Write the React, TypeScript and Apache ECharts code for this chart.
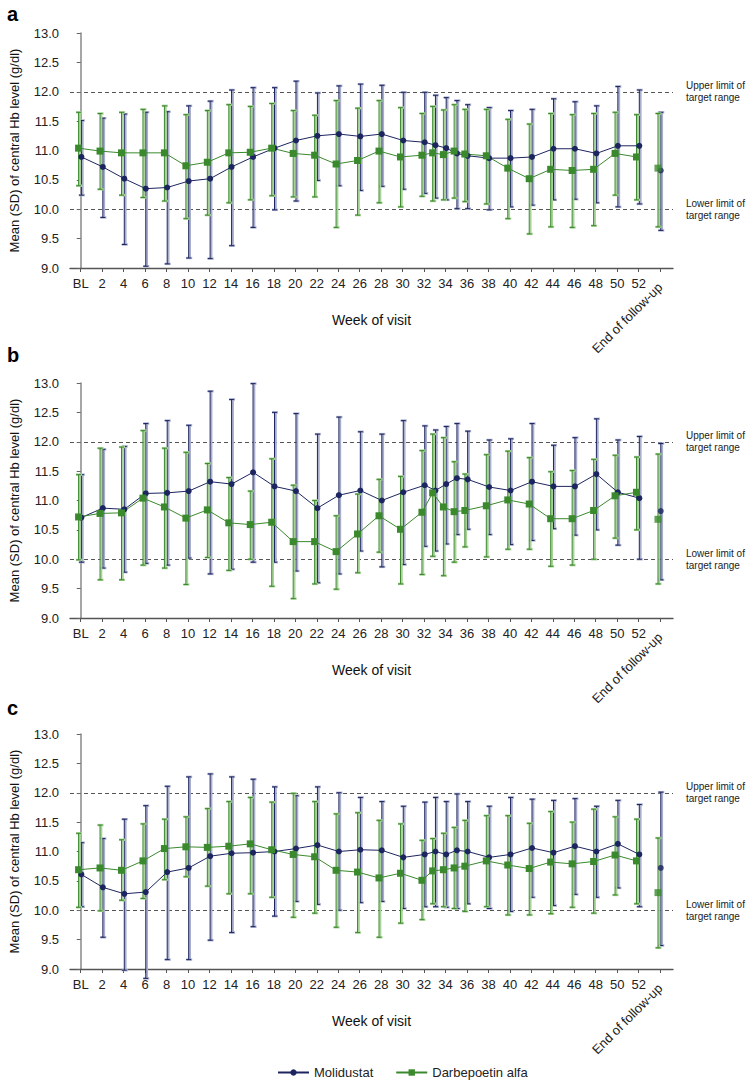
import React, { useEffect, useRef } from "react";
import * as echarts from "echarts";

// Visit weeks (BL = 0, End of follow-up plotted at 54)
const weeks = [0, 2, 4, 6, 8, 10, 12, 14, 16, 18, 20, 22, 24, 26, 28, 30, 32, 33, 34, 35, 36, 38, 40, 42, 44, 46, 48, 50, 52, 54];
const tickWeeks = [0, 2, 4, 6, 8, 10, 12, 14, 16, 18, 20, 22, 24, 26, 28, 30, 32, 34, 36, 38, 40, 42, 44, 46, 48, 50, 52, 54];
const END_WEEK = 54;
const END_LABEL = "End of follow-up";
const panelLabels = ["a", "b", "c"];
const seriesNames = ["Molidustat", "Darbepoetin alfa"];

// Panel a
const aMoliMean = [10.89, 10.72, 10.52, 10.35, 10.37, 10.48, 10.52, 10.72, 10.89, 11.04, 11.17, 11.25, 11.28, 11.24, 11.28, 11.17, 11.14, 11.09, 11.04, 10.95, 10.91, 10.87, 10.87, 10.89, 11.03, 11.03, 10.95, 11.08, 11.08, 10.66];
const aMoliHi = [11.51, 11.55, 11.62, 11.65, 11.66, 11.76, 11.84, 12.03, 12.07, 12.07, 12.18, 11.98, 12.10, 12.13, 12.11, 11.99, 11.99, 11.94, 11.90, 11.85, 11.78, 11.73, 11.68, 11.70, 11.88, 11.83, 11.76, 12.09, 12.03, 11.65];
const aMoliLo = [10.24, 9.86, 9.40, 9.03, 9.07, 9.17, 9.16, 9.38, 9.69, 9.99, 10.14, 10.49, 10.40, 10.32, 10.39, 10.34, 10.27, 10.19, 10.16, 10.01, 10.01, 9.99, 10.04, 10.07, 10.16, 10.17, 10.11, 10.04, 10.09, 9.64];
const aDarbMean = [11.04, 10.99, 10.96, 10.96, 10.96, 10.74, 10.80, 10.96, 10.97, 11.04, 10.95, 10.92, 10.77, 10.83, 10.99, 10.89, 10.92, 10.96, 10.93, 10.99, 10.94, 10.91, 10.70, 10.52, 10.68, 10.66, 10.68, 10.95, 10.89, 10.70];
const aDarbHi = [11.65, 11.63, 11.65, 11.70, 11.76, 11.61, 11.68, 11.78, 11.75, 11.80, 11.68, 11.60, 11.85, 11.72, 11.85, 11.73, 11.63, 11.75, 11.69, 11.78, 11.70, 11.70, 11.53, 11.45, 11.63, 11.61, 11.63, 11.65, 11.61, 11.63];
const aDarbLo = [10.40, 10.34, 10.24, 10.20, 10.14, 9.84, 9.90, 10.11, 10.16, 10.23, 10.21, 10.21, 9.69, 9.90, 10.11, 10.04, 10.22, 10.14, 10.16, 10.19, 10.13, 10.09, 9.84, 9.58, 9.70, 9.69, 9.72, 10.24, 10.16, 9.70];

// Panel b
const bMoliMean = [10.71, 10.87, 10.85, 11.12, 11.13, 11.16, 11.32, 11.28, 11.48, 11.24, 11.16, 10.87, 11.09, 11.17, 11.00, 11.14, 11.26, 11.17, 11.28, 11.38, 11.36, 11.23, 11.17, 11.32, 11.24, 11.24, 11.45, 11.14, 11.04, 10.82];
const bMoliHi = [11.44, 11.87, 11.92, 12.31, 12.36, 12.28, 12.86, 12.72, 12.99, 12.50, 12.48, 12.13, 12.42, 12.17, 12.13, 12.36, 12.27, 12.20, 12.26, 12.31, 12.18, 12.03, 12.05, 12.31, 11.94, 12.07, 12.39, 12.03, 12.09, 11.97];
const bMoliLo = [9.95, 9.85, 9.78, 9.93, 9.90, 10.02, 9.75, 9.83, 9.95, 9.95, 9.80, 9.60, 9.75, 10.14, 9.87, 9.91, 10.22, 10.14, 10.26, 10.42, 10.51, 10.42, 10.25, 10.32, 10.52, 10.41, 10.50, 10.24, 10.00, 9.65];
const bDarbMean = [10.72, 10.78, 10.79, 11.04, 10.89, 10.70, 10.84, 10.62, 10.59, 10.63, 10.30, 10.30, 10.13, 10.43, 10.74, 10.51, 10.80, 11.13, 10.89, 10.81, 10.83, 10.91, 11.01, 10.94, 10.69, 10.69, 10.83, 11.08, 11.14, 10.68];
const bDarbHi = [11.44, 11.89, 11.91, 12.19, 11.89, 11.82, 11.63, 11.39, 11.16, 11.71, 11.26, 11.00, 10.74, 11.11, 11.36, 11.41, 11.85, 12.13, 12.07, 11.66, 11.45, 11.78, 11.84, 11.73, 11.49, 11.51, 11.70, 11.77, 11.74, 11.79];
const bDarbLo = [9.99, 9.65, 9.65, 9.90, 9.85, 9.57, 10.03, 9.81, 10.00, 9.54, 9.33, 9.58, 9.49, 9.77, 10.12, 9.58, 9.74, 10.05, 9.72, 9.95, 10.21, 10.04, 10.17, 10.17, 9.88, 9.90, 10.00, 10.36, 10.50, 9.58];

// Panel c
const cMoliMean = [10.61, 10.39, 10.28, 10.31, 10.65, 10.72, 10.92, 10.97, 10.98, 11.00, 11.05, 11.11, 11.00, 11.03, 11.02, 10.90, 10.95, 11.00, 10.95, 11.02, 11.00, 10.90, 10.95, 11.06, 10.98, 11.09, 11.00, 11.13, 10.95, 10.72];
const cMoliHi = [11.15, 11.22, 11.55, 11.78, 12.11, 12.27, 12.32, 12.27, 12.23, 12.10, 11.95, 12.10, 12.00, 11.92, 11.85, 11.77, 11.84, 11.92, 11.85, 11.98, 11.85, 11.77, 11.92, 11.89, 11.87, 11.90, 11.77, 11.87, 11.80, 12.01];
const cMoliLo = [10.06, 9.54, 8.98, 8.84, 9.16, 9.16, 9.49, 9.62, 9.72, 9.90, 10.15, 10.10, 10.00, 10.13, 10.15, 10.03, 10.06, 10.06, 10.05, 10.03, 10.11, 10.03, 9.98, 10.22, 10.08, 10.27, 10.22, 10.38, 10.06, 9.40];
const cDarbMean = [10.69, 10.72, 10.68, 10.84, 11.05, 11.08, 11.07, 11.09, 11.13, 11.03, 10.95, 10.91, 10.68, 10.65, 10.55, 10.63, 10.51, 10.67, 10.69, 10.72, 10.75, 10.84, 10.77, 10.71, 10.82, 10.79, 10.83, 10.94, 10.84, 10.30];
const cDarbHi = [11.31, 11.45, 11.20, 11.47, 11.55, 11.59, 11.73, 11.85, 11.92, 11.84, 11.99, 11.85, 11.64, 11.66, 11.53, 11.47, 11.19, 11.22, 11.31, 11.41, 11.53, 11.61, 11.61, 11.48, 11.68, 11.50, 11.72, 11.59, 11.55, 11.23];
const cDarbLo = [10.05, 9.99, 10.17, 10.20, 10.52, 10.57, 10.41, 10.28, 10.28, 10.22, 9.88, 9.95, 9.71, 9.62, 9.54, 9.78, 9.84, 10.11, 10.06, 10.03, 9.98, 10.06, 9.92, 9.92, 9.94, 10.05, 9.95, 10.26, 10.11, 9.36];

const UPPER_LIMIT = 12;
const LOWER_LIMIT = 10;

// Styling
const FONT = "'Liberation Sans', Arial, Helvetica, sans-serif";
const BLUE = "#1c2560";
const BLUE_L = "#a9aecb";
const GREEN = "#3a892c";
const GREEN_L = "#a9d29a";
const GRID_TOPS = [33, 383, 734];
const GRID_H = 235;
const LABEL_TOPS = [4, 345, 698];
const OFF_MOLI = 0.06;
const OFF_DARB = -0.2;

const panelData = [
  { moli: [aMoliMean, aMoliLo, aMoliHi], darb: [aDarbMean, aDarbLo, aDarbHi] },
  { moli: [bMoliMean, bMoliLo, bMoliHi], darb: [bDarbMean, bDarbLo, bDarbHi] },
  { moli: [cMoliMean, cMoliLo, cMoliHi], darb: [cDarbMean, cDarbLo, cDarbHi] },
];

function errRender(dark: string, light: string) {
  return (params: any, api: any) => {
    const x = api.value(0);
    const lo = api.value(1);
    const hi = api.value(2);
    const pHi = api.coord([x, hi]);
    const pLo = api.coord([x, lo]);
    const cw = 2.5;
    const X = pHi[0];
    return {
      type: "group",
      children: [
        { type: "line", shape: { x1: X + 1.3, y1: pHi[1], x2: X + 1.3, y2: pLo[1] }, style: { stroke: light, lineWidth: 2 } },
        { type: "line", shape: { x1: X - cw, y1: pHi[1], x2: X + cw + 1, y2: pHi[1] }, style: { stroke: light, lineWidth: 2.4 } },
        { type: "line", shape: { x1: X - cw, y1: pLo[1], x2: X + cw + 1, y2: pLo[1] }, style: { stroke: light, lineWidth: 2.4 } },
        { type: "line", shape: { x1: X, y1: pHi[1], x2: X, y2: pLo[1] }, style: { stroke: dark, lineWidth: 1 } },
        { type: "line", shape: { x1: X - cw, y1: pHi[1], x2: X + cw, y2: pHi[1] }, style: { stroke: dark, lineWidth: 1 } },
        { type: "line", shape: { x1: X - cw, y1: pLo[1], x2: X + cw, y2: pLo[1] }, style: { stroke: dark, lineWidth: 1 } },
      ],
    };
  };
}

function buildOption() {
  const grids: any[] = [];
  const xAxes: any[] = [];
  const yAxes: any[] = [];
  const series: any[] = [];
  const graphics: any[] = [];

  panelData.forEach((pd, i) => {
    grids.push({ left: 65, right: 73, top: GRID_TOPS[i], height: GRID_H });
    xAxes.push({
      gridIndex: i,
      type: "value",
      min: -1,
      max: 55.2,
      position: "bottom",
      axisLine: { show: true, onZero: false, lineStyle: { color: "#555", width: 1.3 } },
      axisTick: { show: true, customValues: tickWeeks, length: 4, lineStyle: { color: "#555" } },
      axisLabel: {
        customValues: tickWeeks.slice(0, -1),
        formatter: (v: number) => (v === 0 ? "BL" : String(v)),
        margin: 9,
        fontSize: 13,
        color: "#222",
        fontFamily: FONT,
      },
      splitLine: { show: false },
      name: "Week of visit",
      nameLocation: "middle",
      nameGap: 45,
      nameTextStyle: { fontSize: 14, color: "#111", fontFamily: FONT },
    });
    xAxes.push({
      gridIndex: i,
      type: "value",
      min: -1,
      max: 55.2,
      position: "bottom",
      axisLine: { show: false },
      axisTick: { show: false },
      splitLine: { show: false },
      axisLabel: {
        customValues: [END_WEEK],
        formatter: () => END_LABEL,
        rotate: 45,
        margin: 17,
        fontSize: 13,
        color: "#222",
        fontFamily: FONT,
      },
    });
    yAxes.push({
      gridIndex: i,
      type: "value",
      min: 9,
      max: 13,
      interval: 0.5,
      axisLine: { show: true, lineStyle: { color: "#888", width: 1.5 } },
      axisTick: { show: true, length: 4, lineStyle: { color: "#666" } },
      axisLabel: { formatter: (v: number) => v.toFixed(1), fontSize: 13, color: "#222", margin: 11, fontFamily: FONT },
      splitLine: { show: false },
      name: "Mean (SD) of central Hb level (g/dl)",
      nameLocation: "middle",
      nameRotate: 90,
      nameGap: 49,
      nameTextStyle: { fontSize: 13, color: "#111", fontFamily: FONT },
    });

    const xi = i * 2;
    const groups = [
      { name: seriesNames[0], arr: pd.moli, off: OFF_MOLI, dark: BLUE, light: BLUE_L, symbol: "circle", size: 6 },
      { name: seriesNames[1], arr: pd.darb, off: OFF_DARB, dark: GREEN, light: GREEN_L, symbol: "rect", size: 7 },
    ];
    groups.forEach((g, gi) => {
      const [mean, lo, hi] = g.arr;
      const last = weeks.length - 1;
      series.push({
        name: g.name + " SD " + i,
        type: "custom",
        xAxisIndex: xi,
        yAxisIndex: i,
        renderItem: errRender(g.dark, g.light),
        encode: { x: 0, y: [1, 2] },
        data: weeks.map((w, k) => [w + g.off, lo[k], hi[k]]),
        clip: false,
        silent: true,
        z: 1,
      });
      const lineSeries: any = {
        name: g.name,
        type: "line",
        xAxisIndex: xi,
        yAxisIndex: i,
        data: weeks.slice(0, last).map((w, k) => [w + g.off, mean[k]]),
        symbol: g.symbol,
        symbolSize: g.size,
        showSymbol: true,
        itemStyle: { color: g.dark },
        lineStyle: { color: g.dark, width: 1 },
        z: 3,
        silent: true,
      };
      if (gi === 0) {
        lineSeries.markLine = {
          silent: true,
          symbol: ["none", "none"],
          lineStyle: { type: [4, 3], color: "#555", width: 1.2 },
          label: { position: "end", distance: 13, fontSize: 10, lineHeight: 12, color: "#222", fontFamily: FONT },
          data: [
            { yAxis: UPPER_LIMIT, label: { formatter: "Upper limit of\ntarget range" } },
            { yAxis: LOWER_LIMIT, label: { formatter: "Lower limit of\ntarget range" } },
          ],
          z: 0,
        };
      }
      series.push(lineSeries);
      series.push({
        name: g.name + " end " + i,
        type: "scatter",
        xAxisIndex: xi,
        yAxisIndex: i,
        data: [[weeks[last] + g.off, mean[last]]],
        symbol: g.symbol,
        symbolSize: g.size,
        itemStyle: { color: g.dark },
        z: 3,
        silent: true,
      });
    });

    graphics.push({
      type: "text",
      left: 7,
      top: LABEL_TOPS[i],
      style: { text: panelLabels[i], font: `bold 20px ${FONT}`, fill: "#000" },
    });
  });

  return {
    animation: false,
    backgroundColor: "#ffffff",
    textStyle: { fontFamily: FONT },
    grid: grids,
    xAxis: xAxes,
    yAxis: yAxes,
    series,
    graphic: graphics,
    legend: {
      data: seriesNames,
      top: 1066,
      left: 277,
      padding: 0,
      itemWidth: 31,
      itemHeight: 8,
      itemGap: 22,
      textStyle: { fontSize: 13, color: "#222", fontFamily: FONT },
      selectedMode: false,
    },
  };
}

export default function App() {
  const ref = useRef<HTMLDivElement>(null);
  useEffect(() => {
    if (!ref.current) return;
    const chart = echarts.init(ref.current, undefined, { renderer: "svg" });
    chart.setOption(buildOption() as any);
    return () => chart.dispose();
  }, []);
  return (
    <div
      ref={ref}
      style={{ position: "absolute", left: 0, top: 0, width: 746, height: 1083, background: "#fff" }}
    />
  );
}
